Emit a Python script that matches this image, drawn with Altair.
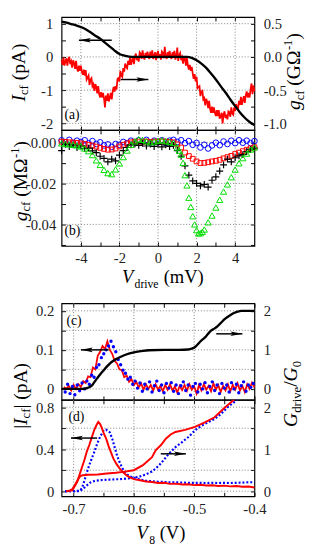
import altair as alt
import pandas as pd

FONT = "Liberation Serif"
RED, BLUE, GREEN, GRIDC = "#ff0000", "#0000ff", "#00dd00", "#808080"
W = 198
HA, HB, SP, HC, HD = 116, 119, 59, 99, 99

# ---------------- panel (a) ----------------
a_V = [-5.0, -4.75, -4.5, -4.25, -4.0, -3.75, -3.5, -3.25, -3.0, -2.75, -2.5, -2.25, -2.0,
       -1.75, -1.5, -1.25, -1.0, 0.0, 1.0, 1.25, 1.5, 1.75, 2.0, 2.25, 2.5, 2.75, 3.0, 3.25,
       3.5, 3.75, 4.0, 4.25, 4.5, 4.75, 5.0]
a_I = [1.06, 1.03, 0.99, 0.95, 0.9, 0.83, 0.74, 0.64, 0.55, 0.43, 0.31, 0.19, 0.09,
       0.04, 0.01, 0.0, 0.0, 0.0, 0.0, 0.0, 0.0, -0.03, -0.1, -0.2, -0.33, -0.5, -0.68, -0.88,
       -1.07, -1.28, -1.48, -1.67, -1.83, -1.96, -2.05]
a_gV = [-5.0, -4.95, -4.9, -4.85, -4.8, -4.75, -4.7, -4.65, -4.6, -4.55,
        -4.5, -4.45, -4.4, -4.35, -4.3, -4.25, -4.2, -4.15, -4.1, -4.05,
        -4.0, -3.95, -3.9, -3.85, -3.8, -3.75, -3.7, -3.65, -3.6, -3.55,
        -3.5, -3.45, -3.4, -3.35, -3.3, -3.25, -3.2, -3.15, -3.1, -3.05,
        -3.0, -2.95, -2.9, -2.85, -2.8, -2.75, -2.7, -2.65, -2.6, -2.55,
        -2.5, -2.45, -2.4, -2.35, -2.3, -2.25, -2.2, -2.15, -2.1, -2.05,
        -2.0, -1.95, -1.9, -1.85, -1.8, -1.75, -1.7, -1.65, -1.6, -1.55,
        -1.5, -1.45, -1.4, -1.35, -1.3, -1.25, -1.2, -1.15, -1.1, -1.05,
        -1.0, -0.95, -0.9, -0.85, -0.8, -0.75, -0.7, -0.65, -0.6, -0.55,
        -0.5, -0.45, -0.4, -0.35, -0.3, -0.25, -0.2, -0.15, -0.1, -0.05,
        0.0, 0.05, 0.1, 0.15, 0.2, 0.25, 0.3, 0.35, 0.4, 0.45,
        0.5, 0.55, 0.6, 0.65, 0.7, 0.75, 0.8, 0.85, 0.9, 0.95,
        1.0, 1.05, 1.1, 1.15, 1.2, 1.25, 1.3, 1.35, 1.4, 1.45,
        1.5, 1.55, 1.6, 1.65, 1.7, 1.75, 1.8, 1.85, 1.9, 1.95,
        2.0, 2.05, 2.1, 2.15, 2.2, 2.25, 2.3, 2.35, 2.4, 2.45,
        2.5, 2.55, 2.6, 2.65, 2.7, 2.75, 2.8, 2.85, 2.9, 2.95,
        3.0, 3.05, 3.1, 3.15, 3.2, 3.25, 3.3, 3.35, 3.4, 3.45,
        3.5, 3.55, 3.6, 3.65, 3.7, 3.75, 3.8, 3.85, 3.9, 3.95,
        4.0, 4.05, 4.1, 4.15, 4.2, 4.25, 4.3, 4.35, 4.4, 4.45,
        4.5, 4.55, 4.6, 4.65, 4.7, 4.75, 4.8, 4.85, 4.9, 4.95, 5.0]
a_g = [-0.05, -0.12, -0.01, -0.13, -0.07, -0.02, -0.13, -0.04, 0.00, -0.11,
       -0.07, -0.16, -0.05, -0.09, -0.18, -0.06, -0.17, -0.22, -0.13, -0.21,
       -0.13, -0.22, -0.27, -0.19, -0.28, -0.20, -0.34, -0.31, -0.28, -0.42,
       -0.34, -0.32, -0.44, -0.41, -0.51, -0.41, -0.45, -0.55, -0.44, -0.56,
       -0.61, -0.53, -0.61, -0.54, -0.62, -0.76, -0.58, -0.66, -0.55, -0.67,
       -0.61, -0.54, -0.64, -0.52, -0.45, -0.52, -0.44, -0.49, -0.33, -0.32,
       -0.37, -0.21, -0.28, -0.30, -0.17, -0.22, -0.10, -0.15, -0.17, -0.06,
       -0.12, -0.01, -0.12, -0.06, 0.00, -0.11, 0.00, 0.05, -0.05, 0.01,
       -0.07, 0.07, 0.05, -0.03, 0.10, 0.00, -0.04, 0.06, -0.01, 0.08,
       0.01, -0.03, 0.08, -0.01, 0.10, -0.03, 0.02, 0.07, -0.05, 0.05,
       0.09, -0.01, 0.04, -0.04, 0.08, 0.06, -0.02, 0.15, 0.01, -0.03,
       0.07, -0.01, 0.09, 0.01, -0.03, 0.07, -0.01, 0.09, -0.04, 0.01,
       0.14, -0.06, 0.03, 0.06, -0.05, -0.01, -0.10, 0.01, -0.03, -0.13,
       -0.01, -0.13, -0.19, -0.12, -0.21, -0.15, -0.25, -0.33, -0.26, -0.37,
       -0.30, -0.47, -0.45, -0.44, -0.59, -0.52, -0.51, -0.64, -0.62, -0.73,
       -0.63, -0.67, -0.77, -0.66, -0.78, -0.84, -0.75, -0.84, -0.76, -0.84,
       -0.89, -0.80, -0.89, -0.80, -0.93, -0.89, -0.84, -1.00, -0.86, -0.82,
       -0.92, -0.87, -0.94, -0.82, -0.83, -0.90, -0.76, -0.85, -0.87, -0.76,
       -0.81, -0.71, -0.76, -0.78, -0.66, -0.72, -0.60, -0.72, -0.65, -0.59,
       -0.69, -0.58, -0.52, -0.61, -0.54, -0.61, -0.48, -0.40, -0.56, -0.43, -0.52]
a_arrow_left = [-2.4, -4.1, 0.5]      # tail, tip, I
a_arrow_right = [-1.93, -0.5, -0.34]  # tail, tip, g

# ---------------- panel (b) ----------------
b_V = [-5.0, -4.8, -4.6, -4.4, -4.2, -4.0, -3.8, -3.6, -3.4, -3.2,
       -3.0, -2.8, -2.6, -2.4, -2.2, -2.0, -1.8, -1.6, -1.4, -1.2,
       -1.0, -0.8, -0.6, -0.4, -0.2, 0.0, 0.2, 0.4, 0.6, 0.8,
       1.0, 1.2, 1.4, 1.6, 1.8, 2.0, 2.2, 2.4, 2.6, 2.8,
       3.0, 3.2, 3.4, 3.6, 3.8, 4.0, 4.2, 4.4, 4.6, 4.8, 5.0]
b_blue = [0.0010, 0.0000, 0.0012, -0.0003, 0.0008, 0.0002, 0.0010, -0.0005, 0.0006, -0.0008,
          0.0000, -0.0015, -0.0010, -0.0022, -0.0008, -0.0012, 0.0002, -0.0004, 0.0008, 0.0000,
          0.0010, 0.0003, 0.0012, -0.0002, 0.0008, 0.0000, 0.0010, -0.0003, 0.0008, 0.0012,
          0.0002, 0.0010, -0.0004, 0.0006, -0.0012, -0.0003, -0.0025, -0.0012, -0.0030, -0.0015,
          -0.0002, -0.0014, 0.0004, -0.0008, 0.0008, -0.0004, 0.0010, -0.0002, 0.0008, -0.0004, 0.0006]
b_red = [0.0003, 0.0002, 0.0000, -0.0001, -0.0003, -0.0005, -0.0008, -0.0012, -0.0016, -0.0021,
         -0.0027, -0.0032, -0.0036, -0.0035, -0.0030, -0.0020, -0.0012, -0.0005, 0.0000, 0.0003,
         0.0004, 0.0003, 0.0004, 0.0002, 0.0004, 0.0003, 0.0004, 0.0003, 0.0002, 0.0000,
         -0.0010, -0.0025, -0.0050, -0.0067, -0.0080, -0.0093, -0.0101, -0.0100, -0.0097, -0.0093,
         -0.0090, -0.0085, -0.0078, -0.0072, -0.0066, -0.0057, -0.0050, -0.0043, -0.0036, -0.0029, -0.0024]
b_black = [-0.0040, -0.0010, -0.0020, -0.0012, -0.0025, -0.0018, -0.0030, -0.0028, -0.0042, -0.0050,
           -0.0068, -0.0078, -0.0095, -0.0082, -0.0090, -0.0062, -0.0040, -0.0025, -0.0012, -0.0008,
           -0.0015, -0.0005, -0.0018, -0.0008, -0.0020, -0.0010, -0.0022, -0.0012, -0.0020, -0.0015,
           -0.0040, -0.0068, -0.0115, -0.0160, -0.0188, -0.0200, -0.0212, -0.0205, -0.0218, -0.0185,
           -0.0168, -0.0140, -0.0110, -0.0082, -0.0095, -0.0075, -0.0066, -0.0060, -0.0045, -0.0035, -0.0028]
b_gV = [-5.0, -4.8, -4.6, -4.4, -4.2, -4.0, -3.8, -3.6, -3.4, -3.2,
        -3.0, -2.8, -2.6, -2.4, -2.2, -2.0, -1.8, -1.6, -1.4, -1.2,
        -1.0, -0.8, -0.6, -0.4, -0.2, 0.0, 0.2, 0.4, 0.6, 0.8,
        1.0, 1.1, 1.2, 1.3, 1.4, 1.5, 1.6, 1.7, 1.8, 1.9,
        2.0, 2.1, 2.2, 2.3, 2.4,
        2.6, 2.8, 3.0, 3.2, 3.4, 3.6, 3.8, 4.0, 4.2, 4.4, 4.6, 4.8, 5.0]
b_green = [-0.0005, -0.0008, -0.0010, -0.0012, -0.0015, -0.0020, -0.0030, -0.0043, -0.0062, -0.0088,
           -0.0110, -0.0134, -0.0150, -0.0155, -0.0132, -0.0103, -0.0072, -0.0040, -0.0012, 0.0005,
           0.0015, 0.0012, 0.0005, 0.0000, 0.0004, 0.0008, 0.0010, 0.0006, 0.0002, -0.0003,
           -0.0025, -0.0040, -0.0060, -0.0100, -0.0160, -0.0210, -0.0270, -0.0315, -0.0360, -0.0400,
           -0.0428, -0.0444, -0.0443, -0.0436, -0.0425,
           -0.0390, -0.0357, -0.0318, -0.0280, -0.0240, -0.0205, -0.0170, -0.0133, -0.0102, -0.0077,
           -0.0055, -0.0035, -0.0025]

# ---------------- panel (c) ----------------
c_kV = [-0.72, -0.70, -0.685, -0.678, -0.672, -0.668, -0.664, -0.660, -0.656, -0.650,
        -0.645, -0.640, -0.634, -0.626, -0.618, -0.607, -0.596, -0.585, -0.575, -0.55,
        -0.525, -0.51, -0.504, -0.498, -0.493, -0.488, -0.482, -0.477, -0.472, -0.466,
        -0.461, -0.455, -0.45, -0.444, -0.439, -0.433, -0.428, -0.422, -0.417, -0.40]
c_kG = [0.0, 0.0, 0.0, 0.02, 0.06, 0.12, 0.21, 0.29, 0.37, 0.48,
        0.57, 0.65, 0.72, 0.79, 0.85, 0.91, 0.95, 0.975, 0.99, 1.0,
        1.0, 1.01, 1.03, 1.08, 1.16, 1.24, 1.32, 1.41, 1.49, 1.55,
        1.61, 1.70, 1.78, 1.85, 1.90, 1.95, 1.98, 2.0, 2.0, 2.0]
c_rV = [-0.716, -0.712, -0.708, -0.704, -0.700, -0.696, -0.692, -0.688, -0.684, -0.680,
        -0.676, -0.672, -0.668, -0.664, -0.660, -0.656, -0.652, -0.648, -0.644, -0.640,
        -0.636, -0.632, -0.628, -0.624, -0.620, -0.616, -0.612, -0.608, -0.604, -0.600,
        -0.596, -0.592, -0.588, -0.584, -0.580, -0.576, -0.572, -0.568, -0.564, -0.560,
        -0.556, -0.552, -0.548, -0.544, -0.540, -0.536, -0.532, -0.528, -0.524, -0.520,
        -0.516, -0.512, -0.508, -0.504, -0.500, -0.496, -0.492, -0.488, -0.484, -0.480,
        -0.476, -0.472, -0.468, -0.464, -0.460, -0.456, -0.452, -0.448, -0.444, -0.440,
        -0.436, -0.432, -0.428, -0.424, -0.420, -0.416, -0.412, -0.408, -0.404, -0.400]
c_rI = [0.005, 0.0, 0.008, -0.004, 0.01, 0.0, 0.012, 0.005, 0.02, 0.015,
        0.032, 0.03, 0.055, 0.05, 0.085, 0.095, 0.11, 0.102, 0.122, 0.1,
        0.09, 0.072, 0.065, 0.05, 0.048, 0.03, 0.034, 0.018, 0.025, 0.01,
        0.018, 0.004, 0.014, -0.002, 0.012, 0.0, 0.01, -0.004, 0.012, -0.002,
        0.008, -0.006, 0.01, -0.002, 0.012, -0.004, 0.006, -0.01, 0.008, -0.003,
        0.01, -0.005, 0.012, -0.002, 0.006, -0.012, 0.01, -0.004, 0.012, -0.002,
        0.008, -0.006, 0.014, -0.002, 0.01, -0.008, 0.008, -0.004, 0.012, -0.006,
        0.01, -0.002, 0.014, -0.004, 0.008, -0.008, 0.012, 0.0, 0.016, 0.004]
c_uV = [-0.714, -0.710, -0.706, -0.702, -0.698, -0.694, -0.690, -0.686, -0.682, -0.678,
        -0.674, -0.670, -0.666, -0.662, -0.658, -0.654, -0.650, -0.646, -0.642, -0.638,
        -0.634, -0.630, -0.626, -0.622, -0.618, -0.614, -0.610, -0.606, -0.602, -0.598,
        -0.594, -0.590, -0.586, -0.582, -0.578, -0.574, -0.570, -0.566, -0.562, -0.558,
        -0.554, -0.550, -0.546, -0.542, -0.538, -0.534, -0.530, -0.526, -0.522, -0.518,
        -0.514, -0.510, -0.506, -0.502, -0.498, -0.494, -0.490, -0.486, -0.482, -0.478,
        -0.474, -0.470, -0.466, -0.462, -0.458, -0.454, -0.450, -0.446, -0.442, -0.438,
        -0.434, -0.430, -0.426, -0.422, -0.418, -0.414, -0.410, -0.406, -0.402]
c_uI = [-0.008, 0.012, -0.012, 0.006, -0.015, 0.01, -0.005, 0.015, 0.0, 0.02,
        0.012, 0.035, 0.03, 0.055, 0.062, 0.08, 0.09, 0.1, 0.11, 0.122,
        0.108, 0.095, 0.075, 0.062, 0.048, 0.04, 0.025, 0.03, 0.012, 0.02,
        0.002, 0.015, -0.006, 0.012, 0.0, 0.018, -0.008, 0.008, 0.02, -0.004,
        0.01, -0.01, 0.014, 0.002, 0.016, -0.006, 0.01, -0.012, 0.008, 0.018,
        -0.004, 0.01, -0.016, 0.006, 0.014, -0.008, 0.012, 0.0, 0.016, -0.01,
        0.006, 0.018, -0.004, 0.01, -0.012, 0.014, 0.002, 0.01, -0.008, 0.016,
        0.0, 0.012, -0.01, 0.008, 0.018, -0.006, 0.01, 0.004, 0.014]
c_arrow_left = [-0.642, -0.688, 0.1]
c_arrow_right = [-0.4634, -0.420, 1.41]

# ---------------- panel (d) ----------------
d_rV = [-0.712, -0.706, -0.702, -0.698, -0.694, -0.690, -0.686, -0.682, -0.678, -0.674,
        -0.670, -0.666, -0.662, -0.659, -0.656, -0.653, -0.650, -0.646, -0.642, -0.638,
        -0.634, -0.629, -0.624, -0.618, -0.612, -0.606, -0.600,
        -0.590, -0.580, -0.570, -0.560, -0.550, -0.540, -0.530, -0.520, -0.510, -0.500,
        -0.490, -0.480, -0.470, -0.460, -0.450, -0.440, -0.430, -0.420, -0.410, -0.400]
d_rI = [0.0, 0.003, 0.01, 0.05, 0.09, 0.16, 0.23, 0.30, 0.38, 0.44,
        0.51, 0.58, 0.63, 0.66, 0.64, 0.60, 0.55, 0.50, 0.43, 0.37,
        0.31, 0.26, 0.22, 0.18, 0.15, 0.13, 0.115,
        0.105, 0.092, 0.088, 0.078, 0.08, 0.07, 0.072, 0.064, 0.066, 0.058,
        0.062, 0.054, 0.056, 0.05, 0.053, 0.046, 0.05, 0.042, 0.045, 0.035]
d_gV = [-0.712, -0.706, -0.702, -0.698, -0.695, -0.692, -0.689, -0.685, -0.675, -0.66,
        -0.645, -0.63, -0.618, -0.60, -0.585, -0.57, -0.5636, -0.555, -0.547, -0.539,
        -0.531, -0.515, -0.4986, -0.4824, -0.4661, -0.4499, -0.4337, -0.426]
d_rG = [0.0, 0.02, 0.05, 0.14, 0.22, 0.30, 0.36, 0.38, 0.39, 0.40,
        0.42, 0.44, 0.46, 0.50, 0.62, 0.81, 0.98, 1.1, 1.25, 1.35,
        1.41, 1.46, 1.53, 1.64, 1.76, 1.98, 2.18, 2.3]
d_bV = [-0.714, -0.700, -0.694, -0.690, -0.686, -0.682, -0.678, -0.674, -0.670, -0.666,
        -0.661, -0.656, -0.650, -0.646, -0.640, -0.636, -0.632, -0.628, -0.624, -0.620,
        -0.616, -0.610, -0.604, -0.596, -0.58, -0.57, -0.56, -0.55, -0.54, -0.53,
        -0.52, -0.51, -0.50, -0.49, -0.48, -0.47, -0.46, -0.45, -0.44, -0.43,
        -0.42, -0.41, -0.40]
d_bI = [0.0, 0.0, 0.003, 0.005, 0.03, 0.10, 0.18, 0.25, 0.31, 0.37,
        0.45, 0.52, 0.58, 0.585, 0.56, 0.50, 0.42, 0.34, 0.28, 0.23,
        0.19, 0.155, 0.135, 0.12, 0.10, 0.095, 0.09, 0.088, 0.085, 0.085,
        0.082, 0.08, 0.08, 0.08, 0.078, 0.08, 0.078, 0.08, 0.078, 0.08,
        0.082, 0.085, 0.085]
d_cV = [-0.714, -0.700, -0.690, -0.684, -0.678, -0.672, -0.664, -0.650, -0.635, -0.620,
        -0.605, -0.590, -0.580, -0.570, -0.564, -0.558, -0.553, -0.542, -0.531, -0.520,
        -0.5095, -0.4986, -0.4878, -0.477, -0.4661, -0.4553, -0.4445, -0.4337, -0.4256]
d_bG = [0.0, 0.0, 0.0, 0.06, 0.14, 0.21, 0.25, 0.27, 0.28, 0.29,
        0.31, 0.35, 0.40, 0.47, 0.54, 0.62, 0.70, 0.89, 1.05, 1.17,
        1.29, 1.45, 1.56, 1.64, 1.72, 1.84, 2.0, 2.12, 2.24]
d_arrow_left = [-0.661, -0.7044, 0.506]
d_arrow_right = [-0.5554, -0.5137, 0.89]

# ---------------- ticks / grids ----------------
XT_AB = [-4, -3, -2, -1, 0, 1, 2, 3, 4]
GX_AB = [-4, -2, 0, 2, 4]
YT_AL = [-2, -1.5, -1, -0.5, 0, 0.5, 1]
YT_AR = [-1, -0.75, -0.5, -0.25, 0, 0.25, 0.5]
GY_A = [-2, -1, 0, 1]
YT_B = [-0.05, -0.04, -0.03, -0.02, -0.01, 0]
GY_B = [-0.04, -0.02, 0]
XT_CD = [-0.7, -0.65, -0.6, -0.55, -0.5, -0.45, -0.4]
GX_CD = [-0.7, -0.6, -0.5]
YT_CL = [0, 0.05, 0.1, 0.15, 0.2]
YT_G = [0, 0.5, 1, 1.5, 2]
YT_DL = [0, 0.2, 0.4, 0.6, 0.8]

FIX = "replace(datum.label, '\u2212', '-')"


def ax(orient, values, labels=True, lp=8, cond=None, fmt=None):
    kw = dict(orient=orient, values=values, tickSize=4, offset=-4, domain=False, grid=False,
              ticks=True, tickColor="black", tickWidth=1, labels=labels, labelPadding=lp,
              labelFont=FONT, labelFontSize=15, labelColor="#222", labelFlush=False,
              labelOverlap=False, title=None)
    if cond:
        kw["labelExpr"] = f"({cond}) ? {FIX} : ''"
    if fmt:
        kw["format"] = fmt
    return alt.Axis(**kw)


def sc(lo, hi):
    return alt.Scale(domain=[lo, hi], nice=False, zero=False)


def vgrid(vals, xs, top_axis):
    return alt.Chart(pd.DataFrame({"v": vals})).mark_rule(
        color=GRIDC, strokeDash=[1, 2], strokeWidth=1).encode(
        x=alt.X("v:Q", scale=xs, axis=top_axis))


def hgrid(vals, ys, axis=None):
    return alt.Chart(pd.DataFrame({"v": vals})).mark_rule(
        color=GRIDC, strokeDash=[1, 2], strokeWidth=1).encode(
        y=alt.Y("v:Q", scale=ys, axis=axis))


HEAD_L = "M0,0L2,-0.38L1.6,0L2,0.38Z"
HEAD_R = "M0,0L-2,-0.38L-1.6,0L-2,0.38Z"


def arrow(spec, xs, ys, left):
    df = pd.DataFrame({"a": [spec[0]], "b": [spec[1]], "y": [spec[2]]})
    shaft = alt.Chart(df).mark_rule(color="black", strokeWidth=1.5).encode(
        x=alt.X("a:Q", scale=xs, axis=None), x2="b:Q", y=alt.Y("y:Q", scale=ys, axis=None))
    head = alt.Chart(df).mark_point(shape=HEAD_L if left else HEAD_R, filled=True, size=150,
                                    color="black", opacity=1, strokeWidth=0).encode(
        x=alt.X("b:Q", scale=xs, axis=None), y=alt.Y("y:Q", scale=ys, axis=None))
    return [shaft, head]


TW = {' ': 0.25, '(': 0.333, ')': 0.333, 'p': 0.5, 'A': 0.722, 'c': 0.444, 'f': 0.333,
      'M': 0.889, '\u03a9': 0.768, 'G': 0.722, '-': 0.333, '1': 0.5, '|': 0.2, 'd': 0.5,
      'r': 0.333, 'i': 0.278, 'v': 0.5, 'e': 0.444, 'm': 0.778, 'V': 0.68, '/': 0.278,
      '0': 0.5, '8': 0.5, 'I': 0.333, 'g': 0.5, 'a': 0.444, 'b': 0.5}


def seg_len(t, s):
    return sum(TW.get(ch, 0.5) for ch in t) * s


def txt(text, x, y, size=14, style="normal", angle=0):
    kw = dict(text=text, font=FONT, fontSize=size, fontStyle=style, color="black",
              align="left", baseline="alphabetic")
    if angle:
        kw["angle"] = angle
    return alt.Chart(alt.Data(values=[{}])).mark_text(**kw).encode(
        x=alt.value(x), y=alt.value(y))


def vtitle(segs, xb, yc):
    total = sum(seg_len(t, s) for t, s, st, sh in segs)
    y = yc + total / 2
    out = []
    for t, s, st, sh in segs:
        if t.strip():
            out.append(txt(t, xb + sh, y, s, st, angle=270))
        y -= seg_len(t, s)
    return out


def htitle(segs, x0, yb):
    x = x0
    out = []
    for t, s, st, sh in segs:
        if t.strip():
            out.append(txt(t, x, yb + sh, s, st))
        x += seg_len(t, s)
    return out


# ================= panel (a) =================
xa = sc(-5, 5)
yaL = sc(-2.2, 1.2)
yaR = sc(-1.1, 0.6)
la = [
    vgrid(GX_AB, xa, ax("top", XT_AB, labels=False)),
    hgrid(GY_A, yaL),
    alt.Chart(pd.DataFrame({"V": a_gV, "g": a_g})).mark_line(color=RED, strokeWidth=1.8).encode(
        x=alt.X("V:Q", scale=xa, axis=None),
        y=alt.Y("g:Q", scale=yaR, axis=ax("right", YT_AR, lp=9,
                cond="abs(datum.value*2 - round(datum.value*2)) < 0.01", fmt=".1f"))),
    alt.Chart(pd.DataFrame({"V": a_V, "I": a_I})).mark_line(color="black", strokeWidth=2.4,
                                                            interpolate="monotone").encode(
        x=alt.X("V:Q", scale=xa, axis=ax("bottom", XT_AB, labels=False)),
        y=alt.Y("I:Q", scale=yaL, axis=ax("left", YT_AL, lp=9, cond="datum.value % 1 == 0",
                                           fmt=".0f"))),
]
la += arrow(a_arrow_left, xa, yaL, True) + arrow(a_arrow_right, xa, yaR, False)
la.append(txt("(a)", 3, HA - 11, 14))
la += vtitle([("I", 20, "italic", 0), ("cf", 13, "normal", 4), (" ", 20, "normal", 0),
              ("(pA)", 20, "normal", 0)], -38, HA / 2 - 1)
la += vtitle([("g", 20, "italic", 0), ("cf", 13, "normal", 4), (" ", 20, "normal", 0),
              ("(G\u03a9", 20, "normal", 0), ("-1", 13, "normal", -8), (")", 20, "normal", 0)],
             245, HA / 2 - 2)
panel_a = alt.layer(*la).resolve_scale(y="independent").resolve_axis(x="independent").properties(
    width=W, height=HA)

# ================= panel (b) =================
yb = sc(-0.0505, 0.006)
lb = [
    vgrid(GX_AB, xa, ax("top", XT_AB, labels=False)),
    hgrid(GY_B, yb, ax("right", YT_B, labels=False)),
    alt.Chart(pd.DataFrame({"V": b_V, "g": b_blue})).mark_point(
        shape="circle", filled=False, color=BLUE, size=34, strokeWidth=1, opacity=1).encode(
        x=alt.X("V:Q", scale=xa, axis=ax("bottom", XT_AB, lp=5, cond="datum.value % 2 == 0")),
        y=alt.Y("g:Q", scale=yb, axis=ax("left", YT_B, lp=6,
                cond="abs(round(datum.value*100)) % 2 == 0", fmt=".2f"))),
    alt.Chart(pd.DataFrame({"V": b_V, "g": b_red})).mark_point(
        shape="square", filled=False, color=RED, size=24, strokeWidth=1, opacity=1).encode(
        x=alt.X("V:Q", scale=xa, axis=None), y=alt.Y("g:Q", scale=yb, axis=None)),
    alt.Chart(pd.DataFrame({"V": b_V, "g": b_black})).mark_point(
        shape="M-1,0L1,0M0,-1L0,1", filled=False, color="black", size=50, strokeWidth=1.2,
        opacity=1).encode(
        x=alt.X("V:Q", scale=xa, axis=None), y=alt.Y("g:Q", scale=yb, axis=None)),
    alt.Chart(pd.DataFrame({"V": b_gV, "g": b_green})).mark_point(
        shape="triangle-up", filled=False, color=GREEN, size=40, strokeWidth=1, opacity=1).encode(
        x=alt.X("V:Q", scale=xa, axis=None), y=alt.Y("g:Q", scale=yb, axis=None)),
]
lb.append(txt("(b)", 3, HB - 11, 14))
lb += vtitle([("g", 20, "italic", 0), ("cf", 13, "normal", 4), (" ", 20, "normal", 0),
              ("(M\u03a9", 20, "normal", 0), ("-1", 13, "normal", -8), (")", 20, "normal", 0)],
             -36, HB / 2 - 7)
lb += htitle([("V", 19, "italic", 0), ("drive", 12, "normal", 5), (" ", 21, "normal", 0),
              ("(mV)", 19, "normal", 0)], 62, HB + 38)
panel_b = alt.layer(*lb).resolve_scale(y="independent").resolve_axis(x="independent").properties(
    width=W, height=HB)

spacer = alt.Chart(alt.Data(values=[{}])).mark_point(opacity=0).encode(
    x=alt.value(0), y=alt.value(0)).properties(
    width=W, height=SP, view=alt.ViewBackground(stroke="transparent"))

# ================= panel (c) =================
xc = sc(-0.72, -0.4)
ycL = sc(-0.028, 0.219)
ycR = sc(-0.28, 2.19)
lc = [
    vgrid(GX_CD, xc, ax("top", XT_CD, labels=False)),
    hgrid(YT_CL, ycL),
    alt.Chart(pd.DataFrame({"V": c_rV, "I": c_rI})).mark_line(color=RED, strokeWidth=1.8).encode(
        x=alt.X("V:Q", scale=xc, axis=ax("bottom", XT_CD, labels=False)),
        y=alt.Y("I:Q", scale=ycL, axis=ax("left", YT_CL, lp=8,
                cond="abs(round(datum.value*100)) % 10 == 0", fmt=".1~f"))),
    alt.Chart(pd.DataFrame({"V": c_uV, "I": c_uI})).mark_circle(color=BLUE, size=12, opacity=1).encode(
        x=alt.X("V:Q", scale=xc, axis=None), y=alt.Y("I:Q", scale=ycL, axis=None)),
    alt.Chart(pd.DataFrame({"V": c_kV, "G": c_kG})).mark_line(color="black", strokeWidth=2.4,
                                                              interpolate="monotone").encode(
        x=alt.X("V:Q", scale=xc, axis=None),
        y=alt.Y("G:Q", scale=ycR, axis=ax("right", YT_G, lp=9, cond="datum.value % 1 == 0",
                                           fmt=".0f"))),
]
lc += arrow(c_arrow_left, xc, ycL, True) + arrow(c_arrow_right, xc, ycR, False)
lc.append(txt("(c)", 5, 22, 14))
panel_c = alt.layer(*lc).resolve_scale(y="independent").resolve_axis(x="independent").properties(
    width=W, height=HC)

# ================= panel (d) =================
ydL = sc(-0.048, 0.87)
ydR = sc(-0.12, 2.175)
ld = [
    vgrid(GX_CD, xc, ax("top", XT_CD, labels=False)),
    hgrid(YT_DL, ydL),
    alt.Chart(pd.DataFrame({"V": d_bV, "I": d_bI})).mark_line(
        color=BLUE, strokeWidth=2.2, strokeDash=[2, 2]).encode(
        x=alt.X("V:Q", scale=xc, axis=ax("bottom", XT_CD, lp=6,
                cond="abs(round(datum.value*100)) % 10 == 0", fmt=".1f")),
        y=alt.Y("I:Q", scale=ydL, axis=ax("left", YT_DL, lp=8,
                cond="round(datum.value*10) % 4 == 0", fmt=".1~f"))),
    alt.Chart(pd.DataFrame({"V": d_cV, "G": d_bG})).mark_line(
        color=BLUE, strokeWidth=2.2, strokeDash=[2, 2], clip=True).encode(
        x=alt.X("V:Q", scale=xc, axis=None),
        y=alt.Y("G:Q", scale=ydR, axis=ax("right", YT_G, lp=9, cond="datum.value % 1 == 0",
                                           fmt=".0f"))),
    alt.Chart(pd.DataFrame({"V": d_rV, "I": d_rI})).mark_line(color=RED, strokeWidth=2).encode(
        x=alt.X("V:Q", scale=xc, axis=None), y=alt.Y("I:Q", scale=ydL, axis=None)),
    alt.Chart(pd.DataFrame({"V": d_gV, "G": d_rG})).mark_line(color=RED, strokeWidth=2, clip=True).encode(
        x=alt.X("V:Q", scale=xc, axis=None), y=alt.Y("G:Q", scale=ydR, axis=None)),
]
ld += arrow(d_arrow_left, xc, ydL, True) + arrow(d_arrow_right, xc, ydR, False)
ld.append(txt("(d)", 7, 22, 14))
ld += vtitle([("|", 20, "normal", 0), ("I", 20, "italic", 0), ("cf", 13, "normal", 4),
              ("|", 20, "normal", 0), (" ", 20, "normal", 0), ("(pA)", 20, "normal", 0)], -36, -4)
ld += vtitle([("G", 20, "italic", 0), ("drive", 13, "normal", 4), ("/", 20, "normal", 0),
              ("G", 20, "italic", 0), ("0", 13, "normal", 4)], 242, -6)
ld += htitle([("V", 19, "italic", 0), ("8", 12, "normal", 5), (" ", 19, "normal", 0),
              ("(V)", 19, "normal", 0)], 77, HD + 44)
panel_d = alt.layer(*ld).resolve_scale(y="independent").resolve_axis(x="independent").properties(
    width=W, height=HD)

chart = alt.vconcat(panel_a, panel_b, spacer, panel_c, panel_d, spacing=0, bounds="flush").configure_view(
    stroke="black", strokeWidth=1.2).properties(background="white", padding=0)

chart.save("out.html", embed_options={"renderer": "svg", "actions": False})
